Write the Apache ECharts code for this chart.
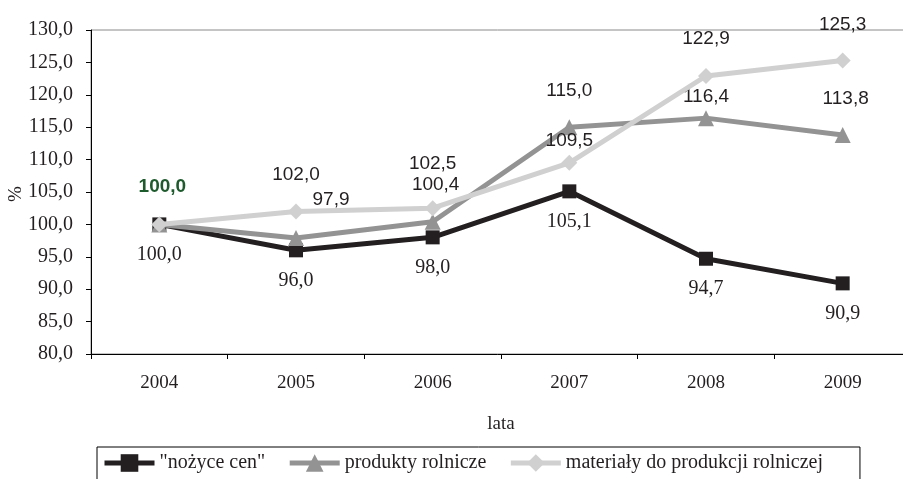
<!DOCTYPE html>
<html>
<head>
<meta charset="utf-8">
<script src="https://cdn.jsdelivr.net/npm/echarts@6/dist/echarts.min.js"></script>
<style>
  html, body { margin: 0; padding: 0; background: #fff; }
  #chart { width: 903px; height: 479px; }
</style>
</head>
<body>
<div id="chart"></div>
<script>
// dane
const years = ['2004', '2005', '2006', '2007', '2008', '2009']
const nozyce = [100.0, 96.0, 98.0, 105.1, 94.7, 90.9]
const produkty = [100.0, 97.9, 100.4, 115.0, 116.4, 113.8]
const materialy = [100.0, 102.0, 102.5, 109.5, 122.9, 125.3]
const seriesNames = ['"nożyce cen"', 'produkty rolnicze', 'materiały do produkcji rolniczej']

const serif = '"Liberation Serif", "Times New Roman", serif'
const sans = '"Liberation Sans", Arial, sans-serif'

function fmt(v) {
  return v.toFixed(1).replace('.', ',')
}

// przesunięcia etykiet względem punktu
const dyProd = [0, -38, -37, -36, -21, -36]
const dxProd = [0, 35, 3, 0, 0, 3]
const dyMat = [-38, -37, -44, -22, -37, -36]

let chart = echarts.init(document.getElementById('chart'))

chart.setOption({
  backgroundColor: '#fff',
  animation: false,
  // nazwa osi Y (obrócony znak %)
  graphic: [
    {
      type: 'text',
      x: 16,
      y: 194,
      rotation: Math.PI / 2,
      style: {
        text: '%',
        font: '19px "Liberation Serif", "Times New Roman", serif',
        fill: '#231f20',
        align: 'center',
        verticalAlign: 'middle'
      }
    }
  ],
  grid: {
    left: 91,
    top: 30,
    width: 820,
    bottom: 125,
    outerBoundsMode: 'none',
    show: true,
    borderColor: '#8a8a8a',
    borderWidth: 1
  },
  legend: {
    left: 97,
    top: 447,
    padding: [6, 37, 20, 5],
    borderColor: '#000',
    borderWidth: 1,
    itemWidth: 50,
    itemHeight: 22,
    itemGap: 22,
    lineStyle: { width: 5 },
    textStyle: {
      fontFamily: serif,
      fontSize: 20,
      color: '#231f20'
    },
    data: seriesNames
  },
  xAxis: {
    type: 'category',
    data: years,
    boundaryGap: true,
    name: 'lata',
    nameLocation: 'middle',
    nameGap: 61,
    nameTextStyle: { fontFamily: serif, fontSize: 19, color: '#231f20' },
    axisLine: { lineStyle: { color: '#000', width: 1 } },
    axisTick: { show: true, length: 5, lineStyle: { color: '#000' } },
    axisLabel: { margin: 20, fontFamily: serif, fontSize: 19, color: '#231f20' }
  },
  yAxis: {
    type: 'value',
    min: 80,
    max: 130,
    interval: 5,
    splitLine: { show: false },
    axisLine: { show: true, lineStyle: { color: '#000', width: 1 } },
    axisTick: { show: true, length: 5, lineStyle: { color: '#000' } },
    axisLabel: {
      margin: 18,
      fontFamily: serif,
      fontSize: 20,
      color: '#231f20',
      formatter: fmt
    }
  },
  series: [
    {
      name: seriesNames[0],
      type: 'line',
      symbol: 'rect',
      symbolSize: 14,
      z: 3,
      itemStyle: { color: '#231f20' },
      lineStyle: { color: '#231f20', width: 5 },
      label: {
        show: true,
        position: 'inside',
        offset: [0, 30],
        fontFamily: serif,
        fontSize: 20,
        color: '#231f20',
        formatter: p => fmt(p.value)
      },
      data: nozyce
    },
    {
      name: seriesNames[1],
      type: 'line',
      symbol: 'triangle',
      symbolSize: 16,
      z: 4,
      itemStyle: { color: '#939393' },
      lineStyle: { color: '#939393', width: 5 },
      data: produkty.map((v, i) => ({
        value: v,
        label: {
          show: i > 0,
          position: 'inside',
          offset: [dxProd[i], dyProd[i]],
          fontFamily: sans,
          fontSize: 19,
          color: '#231f20',
          formatter: p => fmt(p.value)
        }
      }))
    },
    {
      name: seriesNames[2],
      type: 'line',
      symbol: 'diamond',
      symbolSize: 16,
      z: 5,
      itemStyle: { color: '#d0d0d0' },
      lineStyle: { color: '#d0d0d0', width: 5 },
      data: materialy.map((v, i) => ({
        value: v,
        label: {
          show: true,
          position: 'inside',
          offset: [i === 0 ? 3 : 0, dyMat[i]],
          fontFamily: sans,
          fontSize: 19,
          fontWeight: i === 0 ? 'bold' : 'normal',
          color: i === 0 ? '#1d5a2c' : '#231f20',
          formatter: p => fmt(p.value)
        }
      }))
    }
  ]
})
</script>
</body>
</html>
